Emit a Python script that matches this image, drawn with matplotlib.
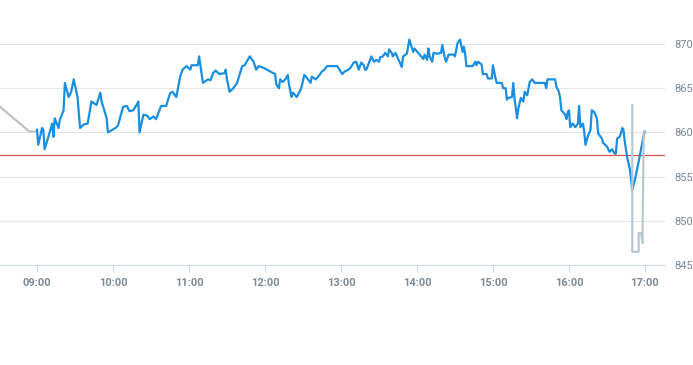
import matplotlib
matplotlib.use("Agg")
import matplotlib.pyplot as plt
import matplotlib.dates as mdates
import pandas as pd

DAY = "2024-01-02 "

times = ["09:00","09:01","09:04","09:05","09:06","09:09","09:12","09:13","09:14","09:17",
         "09:18","09:21","09:22","09:25","09:27","09:29","09:32","09:34","09:37","09:40",
         "09:43","09:47","09:50","09:51","09:55","09:56","10:02","10:04","10:08","10:11",
         "10:13","10:16","10:19","10:20","10:21","10:24","10:27","10:29","10:32","10:34",
         "10:38","10:42","10:45","10:47","10:50","10:53","10:55","10:58","11:01","11:02",
         "11:07","11:08","11:11","11:15","11:17","11:19","11:21","11:24","11:28","11:29",
         "11:30","11:32","11:35","11:38","11:39","11:42","11:44","11:48","11:51","11:53",
         "11:55","11:59","12:04","12:08","12:09","12:11","12:12","12:14","12:16","12:18",
         "12:19","12:21","12:22","12:25","12:28","12:29","12:31","12:33","12:36","12:37",
         "12:40","12:42","12:45","12:47","12:49","12:57","13:01","13:03","13:06","13:08",
         "13:10","13:12","13:14","13:16","13:18","13:19","13:20","13:23","13:24","13:26",
         "13:28","13:30","13:31","13:33","13:35","13:37","13:38","13:40","13:41","13:43",
         "13:47","13:48","13:49","13:52","13:54","13:57","13:58","14:01","14:05","14:06",
         "14:08","14:09","14:10","14:12","14:13","14:16","14:19","14:20","14:22","14:23",
         "14:25","14:29","14:30","14:32","14:34","14:36","14:37","14:38","14:39","14:42",
         "14:44","14:46","14:47","14:48","14:51","14:52","14:55","14:56","14:59","15:00",
         "15:02","15:03","15:07","15:08","15:10","15:11","15:12","15:15","15:16","15:17",
         "15:19","15:20","15:22","15:24","15:25","15:27","15:29","15:31","15:33","15:38",
         "15:41","15:42","15:43","15:49","15:50","15:52","15:53","15:54","15:57","15:58",
         "15:59","16:00","16:01","16:03","16:05","16:07","16:08","16:09","16:11","16:12",
         "16:13","16:15","16:17","16:18","16:20","16:22","16:23","16:26","16:27","16:30",
         "16:32","16:34","16:36","16:37","16:38","16:40","16:41","16:42","16:43","16:44",
         "16:46","16:48","16:50","16:52","16:55","16:57","16:59","17:00"]

prices = [860.3,858.6,860.5,860.3,858.1,859.5,861.0,859.5,861.6,860.5,
          861.4,862.5,865.6,864.0,864.6,866.0,864.0,860.5,860.9,861.0,
          863.5,863.1,864.5,863.5,861.6,860.0,860.5,860.8,862.9,863.0,
          862.4,862.5,863.2,863.5,860.0,862.0,861.9,861.5,861.8,861.5,
          863.0,863.0,864.4,864.6,864.0,866.3,867.1,867.5,867.1,867.6,
          867.6,868.6,865.6,866.0,865.9,866.7,867.0,866.6,866.7,867.1,
          866.0,864.6,865.0,865.6,866.1,867.5,867.6,868.6,868.0,867.1,
          867.5,867.3,866.9,866.6,865.4,865.0,866.0,865.7,866.0,866.5,
          865.4,864.0,864.5,864.0,864.8,865.2,866.5,866.2,865.6,866.3,
          866.0,866.3,866.9,867.1,867.5,867.5,866.6,866.9,867.1,867.4,
          867.9,868.0,867.1,867.9,867.6,867.1,867.1,868.2,868.6,868.0,
          868.2,868.0,868.5,868.6,869.0,868.6,869.4,869.0,868.6,869.0,
          867.7,867.4,868.6,868.9,870.5,869.1,869.5,869.0,868.3,868.8,
          868.2,869.5,868.6,868.0,869.0,868.9,869.0,869.9,868.4,868.0,
          868.8,868.8,868.6,870.1,870.5,869.1,869.7,868.9,867.5,867.5,
          867.5,868.0,867.6,868.0,867.7,866.6,866.6,866.1,866.1,867.6,
          866.1,865.6,865.6,865.0,865.0,863.7,863.9,864.0,865.6,863.9,
          861.6,862.7,863.9,863.5,864.6,864.2,865.7,866.0,865.6,865.6,
          865.6,865.0,866.0,866.0,865.2,864.6,863.9,862.5,862.0,861.5,
          862.3,862.5,860.6,861.0,860.6,861.0,863.0,860.6,861.0,860.1,
          858.6,859.6,860.3,862.5,862.3,861.6,859.9,859.3,858.8,858.4,
          857.8,858.1,857.6,857.6,859.3,859.5,859.9,860.5,860.3,859.0,
          857.1,855.9,853.5,854.6,856.7,858.2,859.7,860.1]

pre_times = ["08:30", "08:54", "09:00"]
pre_prices = [863.0, 860.1, 860.1]

post_times = ["16:50", "16:50", "16:55", "16:55", "16:57", "16:58", "16:59", "17:00"]
post_prices = [863.1, 846.5, 846.5, 848.6, 848.6, 847.5, 860.1, 860.1]

prev_close = 857.4

y_ticks = [845, 850, 855, 860, 865, 870]
x_tick_labels = ["09:00", "10:00", "11:00", "12:00", "13:00", "14:00", "15:00", "16:00", "17:00"]


def to_dt(lst):
    return pd.to_datetime([DAY + t for t in lst])


fig = plt.figure(figsize=(6.93, 3.65), dpi=100)
ax = fig.add_axes([0.0, 100 / 365, 665 / 693, 247.5 / 365])

label_color = "#7d8a97"
grid_color = "#e3e6ea"

ax.plot(to_dt(times), prices, color="#1a8fe0", lw=1.6, zorder=3,
        solid_joinstyle="round")
ax.plot(to_dt(pre_times), pre_prices, color="#b9c3c9", lw=1.6, zorder=2)
ax.plot(to_dt(post_times), post_prices, color="#b9c7cf", lw=1.6, zorder=4)
ax.axhline(prev_close, color="#d9534f", lw=0.9, zorder=2.5)

start = pd.Timestamp(DAY + "09:00") - pd.Timedelta(minutes=29.2)
end = pd.Timestamp(DAY + "17:00") + pd.Timedelta(minutes=15.8)
ax.set_xlim(start, end)
ax.set_ylim(845, 873)

ax.set_yticks(y_ticks)
ax.yaxis.tick_right()
ax.tick_params(axis="y", length=0, pad=7, labelsize=8, labelcolor=label_color)
for yv in y_ticks[1:]:
    ax.axhline(yv, color=grid_color, lw=0.8, zorder=1)

ax.set_xticks(to_dt(x_tick_labels))
ax.set_xticklabels(x_tick_labels)
ax.tick_params(axis="x", length=5, width=0.8, color="#ccd6df", pad=4,
               labelsize=8, labelcolor=label_color)

for s in ["top", "left", "right"]:
    ax.spines[s].set_visible(False)
ax.spines["bottom"].set_color("#ccd6df")
ax.spines["bottom"].set_linewidth(0.8)

for lbl in ax.get_xticklabels() + ax.get_yticklabels():
    lbl.set_fontfamily("Roboto")
for lbl in ax.get_xticklabels():
    lbl.set_fontweight("bold")

fig.savefig("out.png", dpi=100)
